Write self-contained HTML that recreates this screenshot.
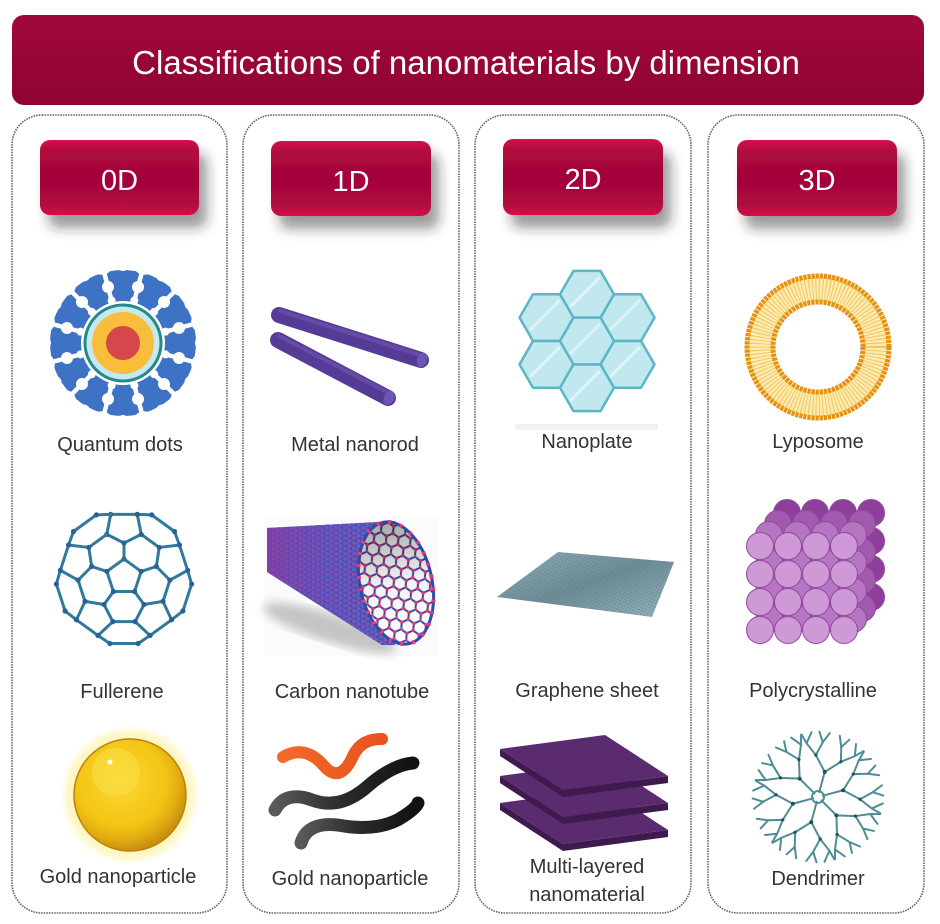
<!DOCTYPE html>
<html><head><meta charset="utf-8"><style>
html,body{margin:0;padding:0;background:#fff;}
svg{display:block;font-family:"Liberation Sans",Arial,sans-serif;}
</style></head><body>
<svg width="940" height="924" viewBox="0 0 940 924" xmlns="http://www.w3.org/2000/svg" xmlns:xlink="http://www.w3.org/1999/xlink">
<defs>
  <linearGradient id="hdr" x1="0" y1="0" x2="0" y2="1">
    <stop offset="0" stop-color="#a0093b"/><stop offset="0.5" stop-color="#980636"/><stop offset="1" stop-color="#8f0432"/>
  </linearGradient>
  <linearGradient id="btn" x1="0" y1="0" x2="0" y2="1">
    <stop offset="0" stop-color="#d8124b"/><stop offset="0.14" stop-color="#b0083f"/><stop offset="0.5" stop-color="#a2053a"/><stop offset="0.86" stop-color="#b1083f"/><stop offset="1" stop-color="#d5114a"/>
  </linearGradient>
  <filter id="sh" x="-20%" y="-20%" width="150%" height="170%">
    <feDropShadow dx="8" dy="13" stdDeviation="6" flood-color="#222" flood-opacity="0.45"/>
  </filter>
  <filter id="blur4"><feGaussianBlur stdDeviation="5"/></filter>
  <radialGradient id="glow" cx="0.5" cy="0.5" r="0.5">
    <stop offset="0.7" stop-color="#fff3a8"/><stop offset="0.88" stop-color="#fff8cf"/><stop offset="1" stop-color="#ffffff" stop-opacity="0"/>
  </radialGradient>
  <radialGradient id="gold" cx="0.42" cy="0.38" r="0.62">
    <stop offset="0" stop-color="#fbd935"/><stop offset="0.65" stop-color="#f3c414"/><stop offset="0.85" stop-color="#e1aa12"/><stop offset="1" stop-color="#c98f10"/>
  </radialGradient>
  <linearGradient id="orng" x1="0" y1="0" x2="1" y2="0">
    <stop offset="0" stop-color="#f26a2a"/><stop offset="1" stop-color="#e9521c"/>
  </linearGradient>
  <linearGradient id="blk" x1="0" y1="0" x2="1" y2="0">
    <stop offset="0" stop-color="#5a5a5a"/><stop offset="0.5" stop-color="#2a2a2a"/><stop offset="1" stop-color="#111"/>
  </linearGradient>
  <pattern id="hexp" width="21" height="12.12" patternUnits="userSpaceOnUse" patternTransform="rotate(-12)">
    <path d="M0,6.06 L3.5,0 L10.5,0 L14,6.06 L10.5,12.12 L3.5,12.12 Z M14,6.06 L21,6.06" fill="none" stroke="#2f4aa8" stroke-width="2"/>
    <circle cx="3.5" cy="0" r="1.8" fill="#e83a78"/><circle cx="10.5" cy="0" r="1.8" fill="#e83a78"/>
    <circle cx="14" cy="6.06" r="1.8" fill="#e83a78"/><circle cx="0" cy="6.06" r="1.8" fill="#e83a78"/>
    <circle cx="3.5" cy="12.12" r="1.8" fill="#e83a78"/><circle cx="10.5" cy="12.12" r="1.8" fill="#e83a78"/>
  </pattern>
  <pattern id="hexs" width="9" height="5.2" patternUnits="userSpaceOnUse">
    <path d="M0,2.6 L1.5,0 L4.5,0 L6,2.6 L4.5,5.2 L1.5,5.2 Z M6,2.6 L9,2.6" fill="none" stroke="#3048b0" stroke-width="1.1"/>
    <circle cx="1.5" cy="0" r="0.9" fill="#e0367a"/><circle cx="6" cy="2.6" r="0.9" fill="#e0367a"/>
  </pattern>
  <linearGradient id="tubeg" x1="0" y1="0" x2="1" y2="0">
    <stop offset="0" stop-color="#8a3aa0" stop-opacity="0.8"/><stop offset="0.5" stop-color="#6a4ab8" stop-opacity="0.4"/><stop offset="1" stop-color="#4a5ab8" stop-opacity="0.1"/>
  </linearGradient>
  <linearGradient id="mouthg" x1="0" y1="0" x2="0" y2="1">
    <stop offset="0" stop-color="#000" stop-opacity="0.35"/><stop offset="0.5" stop-color="#000" stop-opacity="0.05"/><stop offset="1" stop-color="#000" stop-opacity="0"/>
  </linearGradient>
  <pattern id="gpat" width="3" height="3" patternUnits="userSpaceOnUse" patternTransform="rotate(25)">
    <path d="M0,0 L0,3 M0,0 L3,0" stroke="#4e6d78" stroke-width="0.7"/>
  </pattern>
  <linearGradient id="gsh" x1="0" y1="0" x2="1" y2="1">
    <stop offset="0" stop-color="#95b2ba"/><stop offset="0.5" stop-color="#6f8e98"/><stop offset="1" stop-color="#9bb7be"/>
  </linearGradient>
  <polygon id="hex" points="27,0 13.5,23.38 -13.5,23.38 -27,0 -13.5,-23.38 13.5,-23.38"/>
  <g id="qdcut" fill="#fff">
    <circle cx="0" cy="-78" r="6"/>
    <circle cx="15.01" cy="-56.02" r="6"/>
    <circle cx="21.22" cy="-79.21" r="11"/>
    <circle cx="11.39" cy="-42.5" r="4"/>
    <line x1="10.87" y1="-40.57" x2="20.7" y2="-77.27" stroke="#fff" stroke-width="4.5"/>
  </g>
  <g id="fsec">
    <g stroke="#2f7a9a" stroke-width="3" stroke-linecap="round" fill="none">
      <line x1="0" y1="-18" x2="17.12" y2="-5.56"/>
      <line x1="0" y1="-18" x2="0" y2="-34"/>
      <line x1="0" y1="-34" x2="-17.23" y2="-42.65"/>
      <line x1="0" y1="-34" x2="17.23" y2="-42.65"/>
      <line x1="17.23" y1="-42.65" x2="13.31" y2="-62.6"/>
      <line x1="-17.23" y1="-42.65" x2="-13.31" y2="-62.6"/>
      <line x1="-13.31" y1="-62.6" x2="13.31" y2="-62.6"/>
      <line x1="17.23" y1="-42.65" x2="35.24" y2="-29.57"/>
      <line x1="13.31" y1="-62.6" x2="27.66" y2="-62.12"/>
      <line x1="27.66" y1="-62.12" x2="50.53" y2="-45.5"/>
      <line x1="50.53" y1="-45.5" x2="55.43" y2="-32"/>
    </g>
    <g fill="#2a5f9a">
      <circle cx="0" cy="-18" r="2.6"/><circle cx="0" cy="-34" r="2.6"/>
      <circle cx="-17.23" cy="-42.65" r="2.6"/><circle cx="17.23" cy="-42.65" r="2.6"/>
      <circle cx="-13.31" cy="-62.6" r="2.6"/><circle cx="13.31" cy="-62.6" r="2.6"/>
      <circle cx="27.66" cy="-62.12" r="2.6"/><circle cx="50.53" cy="-45.5" r="2.6"/>
    </g>
  </g>
  <g id="arm" stroke="#4f8c98" stroke-width="2" fill="none" stroke-linecap="round">
    <line x1="0" y1="-5" x2="0" y2="-26"/>
    <line x1="0" y1="-26" x2="-12.98" y2="-39.94"/><line x1="0" y1="-26" x2="12.98" y2="-39.94"/>
    <line x1="-12.98" y1="-39.94" x2="-24.97" y2="-49"/><line x1="-12.98" y1="-39.94" x2="-9.55" y2="-54.16"/>
    <line x1="12.98" y1="-39.94" x2="9.55" y2="-54.16"/><line x1="12.98" y1="-39.94" x2="24.97" y2="-49"/>
    <line x1="-24.97" y1="-49" x2="-32" y2="-56"/><line x1="-24.97" y1="-49" x2="-23" y2="-61"/>
    <line x1="-9.55" y1="-54.16" x2="-15.5" y2="-63.5"/><line x1="-9.55" y1="-54.16" x2="-5.2" y2="-64.8"/>
    <line x1="9.55" y1="-54.16" x2="5.2" y2="-64.8"/><line x1="9.55" y1="-54.16" x2="15.5" y2="-63.5"/>
    <line x1="24.97" y1="-49" x2="23" y2="-61"/><line x1="24.97" y1="-49" x2="32" y2="-56"/>
    <circle cx="0" cy="-26" r="2" fill="#23505a" stroke="none"/>
    <circle cx="-12.98" cy="-39.94" r="1.6" fill="#23505a" stroke="none"/>
    <circle cx="12.98" cy="-39.94" r="1.6" fill="#23505a" stroke="none"/>
  </g>
</defs>

<!-- Header -->
<rect x="12" y="15" width="912" height="90" rx="12" fill="url(#hdr)"/>
<text x="466" y="74" font-size="33" fill="#fff" text-anchor="middle">Classifications of nanomaterials by dimension</text>

<!-- Column boxes -->
<g fill="#fff" stroke="#6a6a6a" stroke-width="1.6" stroke-dasharray="1.6 1">
  <rect x="12" y="115" width="215" height="798" rx="30"/>
  <rect x="243" y="115" width="216" height="798" rx="30"/>
  <rect x="475" y="115" width="216" height="798" rx="30"/>
  <rect x="708" y="115" width="216" height="798" rx="30"/>
</g>

<!-- Buttons -->
<g filter="url(#sh)" fill="url(#btn)">
  <rect x="40" y="140" width="159" height="75" rx="10"/>
  <rect x="271" y="141" width="160" height="75" rx="10"/>
  <rect x="503" y="139" width="160" height="76" rx="10"/>
  <rect x="737" y="140" width="160" height="76" rx="10"/>
</g>
<g font-size="29" fill="#fff" text-anchor="middle">
  <text x="119.5" y="190">0D</text>
  <text x="351" y="191">1D</text>
  <text x="583" y="189">2D</text>
  <text x="817" y="190">3D</text>
</g>

<!-- Quantum dots -->
<g transform="translate(123,343)">
  <circle r="73" fill="#3d72c4"/>
  <use href="#qdcut" xlink:href="#qdcut"/>
  <use href="#qdcut" xlink:href="#qdcut" transform="rotate(30)"/>
  <use href="#qdcut" xlink:href="#qdcut" transform="rotate(60)"/>
  <use href="#qdcut" xlink:href="#qdcut" transform="rotate(90)"/>
  <use href="#qdcut" xlink:href="#qdcut" transform="rotate(120)"/>
  <use href="#qdcut" xlink:href="#qdcut" transform="rotate(150)"/>
  <use href="#qdcut" xlink:href="#qdcut" transform="rotate(180)"/>
  <use href="#qdcut" xlink:href="#qdcut" transform="rotate(210)"/>
  <use href="#qdcut" xlink:href="#qdcut" transform="rotate(240)"/>
  <use href="#qdcut" xlink:href="#qdcut" transform="rotate(270)"/>
  <use href="#qdcut" xlink:href="#qdcut" transform="rotate(300)"/>
  <use href="#qdcut" xlink:href="#qdcut" transform="rotate(330)"/>
  <circle r="42" fill="#fff"/>
  <circle r="39.5" fill="#238a8c"/>
  <circle r="36.5" fill="#c6e9ee"/>
  <circle r="31" fill="#f8bd3a"/>
  <circle r="17" fill="#d6474b"/>
</g>

<!-- Metal nanorods -->
<g stroke-linecap="round">
  <line x1="279" y1="315" x2="421" y2="360" stroke="#553a96" stroke-width="16"/>
  <line x1="280" y1="311" x2="420" y2="355" stroke="#6b53ad" stroke-width="4" opacity="0.7"/>
  <line x1="278" y1="340" x2="388" y2="398" stroke="#553a96" stroke-width="16"/>
  <line x1="279" y1="336" x2="389" y2="393" stroke="#6b53ad" stroke-width="4" opacity="0.7"/>
</g>
<ellipse cx="422" cy="360" rx="5" ry="7.5" transform="rotate(18 422 360)" fill="#6d55b3"/>
<ellipse cx="389" cy="398" rx="5" ry="7.5" transform="rotate(28 389 398)" fill="#6d55b3"/>

<!-- Nanoplate -->
<rect x="515" y="424" width="143" height="6" fill="#f1f1f1"/>
<g fill="#c2e8ef" stroke="#5bb6c6" stroke-width="2.5" stroke-linejoin="round">
  <use href="#hex" xlink:href="#hex" transform="translate(546.5,317.6)"/>
  <use href="#hex" xlink:href="#hex" transform="translate(627.5,317.6)"/>
  <use href="#hex" xlink:href="#hex" transform="translate(546.5,364.4)"/>
  <use href="#hex" xlink:href="#hex" transform="translate(627.5,364.4)"/>
  <use href="#hex" xlink:href="#hex" transform="translate(587,294.2)"/>
  <use href="#hex" xlink:href="#hex" transform="translate(587,387.8)"/>
  <use href="#hex" xlink:href="#hex" transform="translate(587,341)"/>
</g>
<g stroke="#ffffff" stroke-width="3" opacity="0.5">
  <line x1="530" y1="330" x2="560" y2="300"/><line x1="610" y1="330" x2="640" y2="300"/>
  <line x1="570" y1="307" x2="600" y2="277"/><line x1="570" y1="354" x2="600" y2="324"/>
  <line x1="530" y1="377" x2="560" y2="347"/><line x1="610" y1="377" x2="640" y2="347"/>
  <line x1="570" y1="401" x2="600" y2="371"/>
</g>

<!-- Lyposome -->
<g transform="translate(818,347)" fill="none">
  <circle r="58" stroke="#fcebb3" stroke-width="26"/>
  <circle r="58" stroke="#f2c65a" stroke-width="22" stroke-dasharray="1 2.3"/>
  <circle r="71" stroke="#e8900f" stroke-width="5" stroke-dasharray="3.2 0.9"/>
  <circle r="45" stroke="#e8900f" stroke-width="5" stroke-dasharray="3.2 0.9"/>
</g>

<!-- Fullerene -->
<g transform="translate(124,577)">
  <use href="#fsec" xlink:href="#fsec"/>
  <use href="#fsec" xlink:href="#fsec" transform="rotate(72)"/>
  <use href="#fsec" xlink:href="#fsec" transform="rotate(144)"/>
  <use href="#fsec" xlink:href="#fsec" transform="rotate(216)"/>
  <use href="#fsec" xlink:href="#fsec" transform="rotate(288)"/>
</g>

<!-- Carbon nanotube -->
<rect x="264" y="516" width="174" height="140" fill="#fbfbfb"/>
<ellipse cx="330" cy="628" rx="70" ry="14" transform="rotate(18 330 628)" fill="#c4c4c4" filter="url(#blur4)"/>
<polygon points="267,528 395,521 395,645 382,645 267,572" fill="#6a62c4"/>
<polygon points="267,528 395,521 395,645 382,645 267,572" fill="url(#hexs)"/>
<polygon points="267,528 395,521 395,645 382,645 267,572" fill="url(#tubeg)"/>
<ellipse cx="396" cy="583" rx="36" ry="62" transform="rotate(-12 396 583)" fill="#fff"/>
<ellipse cx="396" cy="583" rx="36" ry="62" transform="rotate(-12 396 583)" fill="url(#hexp)"/>
<ellipse cx="396" cy="583" rx="36" ry="62" transform="rotate(-12 396 583)" fill="url(#mouthg)"/>
<ellipse cx="396" cy="583" rx="36" ry="62" transform="rotate(-12 396 583)" fill="none" stroke="#2f4aa8" stroke-width="3"/>
<ellipse cx="396" cy="583" rx="36" ry="62" transform="rotate(-12 396 583)" fill="none" stroke="#e83a78" stroke-width="4" stroke-dasharray="3 9"/>

<!-- Graphene sheet -->
<polygon points="497,597 558,552 674,562 652,617" fill="url(#gsh)"/>
<polygon points="497,597 558,552 674,562 652,617" fill="url(#gpat)" opacity="0.6"/>

<!-- Polycrystalline -->
<g stroke="#8e4a9c" stroke-width="1">
  <g transform="translate(27,-33)" fill="#8e3f9c">
    <circle cx="760" cy="546" r="13.5"/><circle cx="788" cy="546" r="13.5"/><circle cx="816" cy="546" r="13.5"/><circle cx="844" cy="546" r="13.5"/>
    <circle cx="760" cy="574" r="13.5"/><circle cx="788" cy="574" r="13.5"/><circle cx="816" cy="574" r="13.5"/><circle cx="844" cy="574" r="13.5"/>
    <circle cx="760" cy="602" r="13.5"/><circle cx="788" cy="602" r="13.5"/><circle cx="816" cy="602" r="13.5"/><circle cx="844" cy="602" r="13.5"/>
    <circle cx="760" cy="630" r="13.5"/><circle cx="788" cy="630" r="13.5"/><circle cx="816" cy="630" r="13.5"/><circle cx="844" cy="630" r="13.5"/>
  </g>
  <g transform="translate(18,-22)" fill="#a259ae">
    <circle cx="760" cy="546" r="13.5"/><circle cx="788" cy="546" r="13.5"/><circle cx="816" cy="546" r="13.5"/><circle cx="844" cy="546" r="13.5"/>
    <circle cx="760" cy="574" r="13.5"/><circle cx="788" cy="574" r="13.5"/><circle cx="816" cy="574" r="13.5"/><circle cx="844" cy="574" r="13.5"/>
    <circle cx="760" cy="602" r="13.5"/><circle cx="788" cy="602" r="13.5"/><circle cx="816" cy="602" r="13.5"/><circle cx="844" cy="602" r="13.5"/>
    <circle cx="760" cy="630" r="13.5"/><circle cx="788" cy="630" r="13.5"/><circle cx="816" cy="630" r="13.5"/><circle cx="844" cy="630" r="13.5"/>
  </g>
  <g transform="translate(9,-11)" fill="#b575c1">
    <circle cx="760" cy="546" r="13.5"/><circle cx="788" cy="546" r="13.5"/><circle cx="816" cy="546" r="13.5"/><circle cx="844" cy="546" r="13.5"/>
    <circle cx="760" cy="574" r="13.5"/><circle cx="788" cy="574" r="13.5"/><circle cx="816" cy="574" r="13.5"/><circle cx="844" cy="574" r="13.5"/>
    <circle cx="760" cy="602" r="13.5"/><circle cx="788" cy="602" r="13.5"/><circle cx="816" cy="602" r="13.5"/><circle cx="844" cy="602" r="13.5"/>
    <circle cx="760" cy="630" r="13.5"/><circle cx="788" cy="630" r="13.5"/><circle cx="816" cy="630" r="13.5"/><circle cx="844" cy="630" r="13.5"/>
  </g>
  <g fill="#cf98d6">
    <circle cx="760" cy="546" r="13.5"/><circle cx="788" cy="546" r="13.5"/><circle cx="816" cy="546" r="13.5"/><circle cx="844" cy="546" r="13.5"/>
    <circle cx="760" cy="574" r="13.5"/><circle cx="788" cy="574" r="13.5"/><circle cx="816" cy="574" r="13.5"/><circle cx="844" cy="574" r="13.5"/>
    <circle cx="760" cy="602" r="13.5"/><circle cx="788" cy="602" r="13.5"/><circle cx="816" cy="602" r="13.5"/><circle cx="844" cy="602" r="13.5"/>
    <circle cx="760" cy="630" r="13.5"/><circle cx="788" cy="630" r="13.5"/><circle cx="816" cy="630" r="13.5"/><circle cx="844" cy="630" r="13.5"/>
  </g>
</g>

<!-- Gold nanoparticle (0D) -->
<circle cx="130" cy="795" r="72" fill="url(#glow)"/>
<circle cx="130" cy="795" r="56" fill="url(#gold)" stroke="#b98210" stroke-width="1.5"/>
<circle cx="116" cy="772" r="24" fill="#fbe24e" opacity="0.45"/>
<circle cx="110" cy="762" r="2.5" fill="#fff"/>

<!-- Wiggles (1D) -->
<g fill="none" stroke-linecap="round">
  <path d="M283,757 C298,748 312,752 324,766 C336,780 346,772 353,756 C360,742 370,739 382,739" stroke="url(#orng)" stroke-width="12"/>
  <path d="M275,810 C282,796 296,794 312,800 C334,808 352,800 368,786 C384,772 400,764 413,763" stroke="url(#blk)" stroke-width="13"/>
  <path d="M301,843 C306,826 322,822 344,826 C368,830 390,826 404,816 C413,810 417,806 418,803" stroke="url(#blk)" stroke-width="13"/>
</g>

<!-- Multi-layered plates -->
<g>
  <g transform="translate(0,54)">
    <polygon points="500,749 563,790 668,776 668,783 563,797 500,756" fill="#3e1a4f"/>
    <polygon points="500,749 605,735 668,776 563,790" fill="#5b2b6f"/>
  </g>
  <g transform="translate(0,27)">
    <polygon points="500,749 563,790 668,776 668,783 563,797 500,756" fill="#3e1a4f"/>
    <polygon points="500,749 605,735 668,776 563,790" fill="#5b2b6f"/>
  </g>
  <polygon points="500,749 563,790 668,776 668,783 563,797 500,756" fill="#3e1a4f"/>
  <polygon points="500,749 605,735 668,776 563,790" fill="#5b2b6f"/>
</g>

<!-- Dendrimer -->
<g transform="translate(818,797) rotate(15)">
  <use href="#arm" xlink:href="#arm"/>
  <use href="#arm" xlink:href="#arm" transform="rotate(60)"/>
  <use href="#arm" xlink:href="#arm" transform="rotate(120)"/>
  <use href="#arm" xlink:href="#arm" transform="rotate(180)"/>
  <use href="#arm" xlink:href="#arm" transform="rotate(240)"/>
  <use href="#arm" xlink:href="#arm" transform="rotate(300)"/>
  <circle r="6" fill="none" stroke="#4f8c98" stroke-width="2"/>
</g>

<!-- Labels -->
<g font-size="20" fill="#333" text-anchor="middle">
  <text x="120" y="451">Quantum dots</text>
  <text x="355" y="451">Metal nanorod</text>
  <text x="587" y="448">Nanoplate</text>
  <text x="818" y="448">Lyposome</text>
  <text x="122" y="698">Fullerene</text>
  <text x="352" y="698">Carbon nanotube</text>
  <text x="587" y="697">Graphene sheet</text>
  <text x="813" y="697">Polycrystalline</text>
  <text x="118" y="883">Gold nanoparticle</text>
  <text x="350" y="885">Gold nanoparticle</text>
  <text x="587" y="873">Multi-layered</text>
  <text x="587" y="901">nanomaterial</text>
  <text x="818" y="885">Dendrimer</text>
</g>
</svg>
</body></html>
